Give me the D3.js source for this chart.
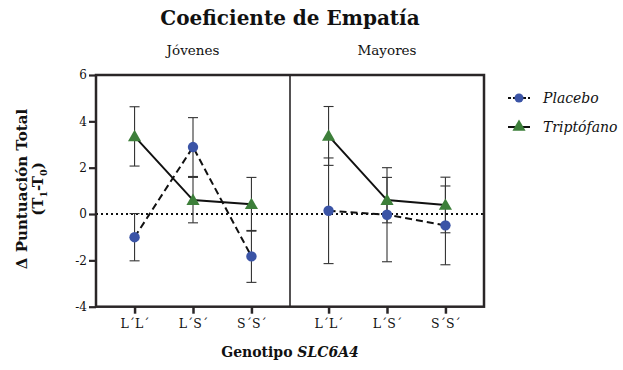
<!DOCTYPE html>
<html>
<head>
<meta charset="utf-8">
<script src="https://cdn.jsdelivr.net/npm/d3@7"></script>
<style>
  html, body { margin: 0; padding: 0; background: #fff; }
  svg { display: block; }
  text { font-family: Georgia, "DejaVu Serif", serif; fill: #111; }
</style>
</head>
<body>
<svg id="chart" width="623" height="370"></svg>
<script>
// Genotype categories and age groups
const genotypes = ["L´L´", "L´S´", "S´S´"];
const groups = ["Jóvenes", "Mayores"];
const yTicks = [-4, -2, 0, 2, 4, 6];

// Change in total score (T1 - T0), mean and error per genotype
const placeboJovenes = [-1.0, 2.89, -1.83];
const placeboJovenesErr = [1.02, 1.27, 1.12];
const placeboMayores = [0.14, -0.03, -0.49];
const placeboMayoresErr = [2.28, 2.03, 1.7];
const triptofanoJovenes = [3.35, 0.6, 0.42];
const triptofanoJovenesErr = [1.28, 0.98, 1.16];
const triptofanoMayores = [3.37, 0.6, 0.39];
const triptofanoMayoresErr = [1.27, 0.98, 1.2];

const placeboData = [
  { mean: placeboJovenes, err: placeboJovenesErr },
  { mean: placeboMayores, err: placeboMayoresErr }
];
const triptofanoData = [
  { mean: triptofanoJovenes, err: triptofanoJovenesErr },
  { mean: triptofanoMayores, err: triptofanoMayoresErr }
];

const svg = d3.select("#chart");
const frameColor = "#2a2627";
const blue = "#3b54a6";
const green = "#3d7f3a";

const plotLeft = 96, plotRight = 484, plotTop = 75, plotBottom = 306.7;
const panelW = (plotRight - plotLeft) / groups.length;

const y = d3.scaleLinear().domain([-4, 6]).range([plotBottom, plotTop]);
const panelX = groups.map((g, i) =>
  d3.scalePoint().domain(genotypes)
    .range([plotLeft + i * panelW, plotLeft + (i + 1) * panelW])
    .padding(0.66)
);

// Title
svg.append("text")
  .attr("x", 290).attr("y", 25)
  .attr("text-anchor", "middle")
  .attr("font-size", 20).attr("font-weight", "bold")
  .text("Coeficiente de Empatía");

// Panel headings
groups.forEach((g, i) => {
  svg.append("text")
    .attr("x", plotLeft + (i + 0.5) * panelW)
    .attr("y", 55)
    .attr("text-anchor", "middle")
    .attr("font-size", 13.5)
    .text(g);
});

// Zero reference line
svg.append("line")
  .attr("x1", plotLeft).attr("x2", plotRight)
  .attr("y1", y(0)).attr("y2", y(0))
  .attr("stroke", "#111").attr("stroke-width", 2)
  .attr("stroke-dasharray", "2,3");

// Y axis
const yAxis = svg.append("g")
  .attr("transform", `translate(${plotLeft},0)`)
  .call(d3.axisLeft(y).tickValues(yTicks).tickSize(7).tickPadding(2).tickFormat(d3.format("d")));
yAxis.select(".domain").remove();
yAxis.selectAll(".tick line").attr("stroke", frameColor).attr("stroke-width", 2.2);
yAxis.selectAll(".tick text").attr("font-size", 12).attr("fill", "#222")
  .style("font-family", 'Georgia, "DejaVu Serif", serif')
  .text(d => d < 0 ? "-" + Math.abs(d) : d);

// X axes per panel
panelX.forEach((sx, i) => {
  const ax = svg.append("g")
    .attr("transform", `translate(0,${plotBottom})`)
    .call(d3.axisBottom(sx).tickSize(7).tickPadding(5));
  ax.select(".domain").remove();
  ax.selectAll(".tick line").attr("stroke", frameColor).attr("stroke-width", 2.5);
  ax.selectAll(".tick text").attr("font-size", 12.5).attr("fill", "#222")
    .style("font-family", 'Georgia, "DejaVu Serif", serif');
});

// Frame and panel divider
svg.append("rect")
  .attr("x", plotLeft).attr("y", plotTop)
  .attr("width", plotRight - plotLeft).attr("height", plotBottom - plotTop)
  .attr("fill", "none").attr("stroke", frameColor).attr("stroke-width", 2.5);
svg.append("line")
  .attr("x1", plotLeft + panelW).attr("x2", plotLeft + panelW)
  .attr("y1", plotTop).attr("y2", plotBottom)
  .attr("stroke", frameColor).attr("stroke-width", 1.6);

// Series lines
const drawLine = (data, dash) => {
  data.forEach((d, i) => {
    const line = d3.line().x((v, j) => panelX[i](genotypes[j])).y(v => y(v));
    svg.append("path")
      .attr("d", line(d.mean))
      .attr("fill", "none").attr("stroke", "#111")
      .attr("stroke-width", 2)
      .attr("stroke-dasharray", dash);
  });
};
drawLine(placeboData, "7,4");
drawLine(triptofanoData, null);

// Error bars
const capW = 5;
const drawErr = (data) => {
  data.forEach((d, i) => {
    d.mean.forEach((m, j) => {
      const cx = panelX[i](genotypes[j]);
      const g = svg.append("g").attr("stroke", "#333").attr("stroke-width", 1.1);
      g.append("line").attr("x1", cx).attr("x2", cx)
        .attr("y1", y(m - d.err[j])).attr("y2", y(m + d.err[j]));
      [m - d.err[j], m + d.err[j]].forEach(v => {
        g.append("line").attr("x1", cx - capW).attr("x2", cx + capW)
          .attr("y1", y(v)).attr("y2", y(v));
      });
    });
  });
};
drawErr(placeboData);
drawErr(triptofanoData);

// Markers
const triangle = d3.symbol().type(d3.symbolTriangle).size(75);
placeboData.forEach((d, i) => {
  d.mean.forEach((m, j) => {
    svg.append("circle")
      .attr("cx", panelX[i](genotypes[j])).attr("cy", y(m))
      .attr("r", 5.2).attr("fill", blue);
  });
});
triptofanoData.forEach((d, i) => {
  d.mean.forEach((m, j) => {
    svg.append("path")
      .attr("d", triangle)
      .attr("transform", `translate(${panelX[i](genotypes[j])},${y(m) + 1})`)
      .attr("fill", green);
  });
});

// Y axis title
const yTitle = svg.append("g").attr("transform", "translate(0,189) rotate(-90)");
yTitle.append("text")
  .attr("x", 0).attr("y", 27)
  .attr("text-anchor", "middle")
  .attr("font-size", 15).attr("font-weight", "bold")
  .text("Δ Puntuación Total");
const t2 = yTitle.append("text")
  .attr("x", 0).attr("y", 43)
  .attr("text-anchor", "middle")
  .attr("font-size", 15).attr("font-weight", "bold");
t2.append("tspan").text("(T");
t2.append("tspan").attr("font-size", 9.5).attr("dy", 4).text("1");
t2.append("tspan").attr("dy", -4).text("-T");
t2.append("tspan").attr("font-size", 9.5).attr("dy", 4).text("0");
t2.append("tspan").attr("dy", -4).text(")");

// X axis title
const xt = svg.append("text")
  .attr("x", 290).attr("y", 357)
  .attr("text-anchor", "middle")
  .attr("font-size", 14).attr("font-weight", "bold");
xt.append("tspan").text("Genotipo ");
xt.append("tspan").attr("font-style", "italic").text("SLC6A4");

// Legend
const legend = svg.append("g");
const legendItems = [
  { label: "Placebo", y: 98, type: "circle", dash: "3,2" },
  { label: "Triptófano", y: 127, type: "triangle", dash: null }
];
legendItems.forEach(it => {
  legend.append("line")
    .attr("x1", 508).attr("x2", 530)
    .attr("y1", it.y).attr("y2", it.y)
    .attr("stroke", "#111").attr("stroke-width", 2)
    .attr("stroke-dasharray", it.dash);
  if (it.type === "circle") {
    legend.append("circle").attr("cx", 519).attr("cy", it.y).attr("r", 4.5).attr("fill", blue);
  } else {
    legend.append("path").attr("d", triangle)
      .attr("transform", `translate(519,${it.y})`).attr("fill", green);
  }
  legend.append("text")
    .attr("x", 543).attr("y", it.y + 5)
    .attr("font-size", 14).attr("font-style", "italic")
    .text(it.label);
});
</script>
</body>
</html>
